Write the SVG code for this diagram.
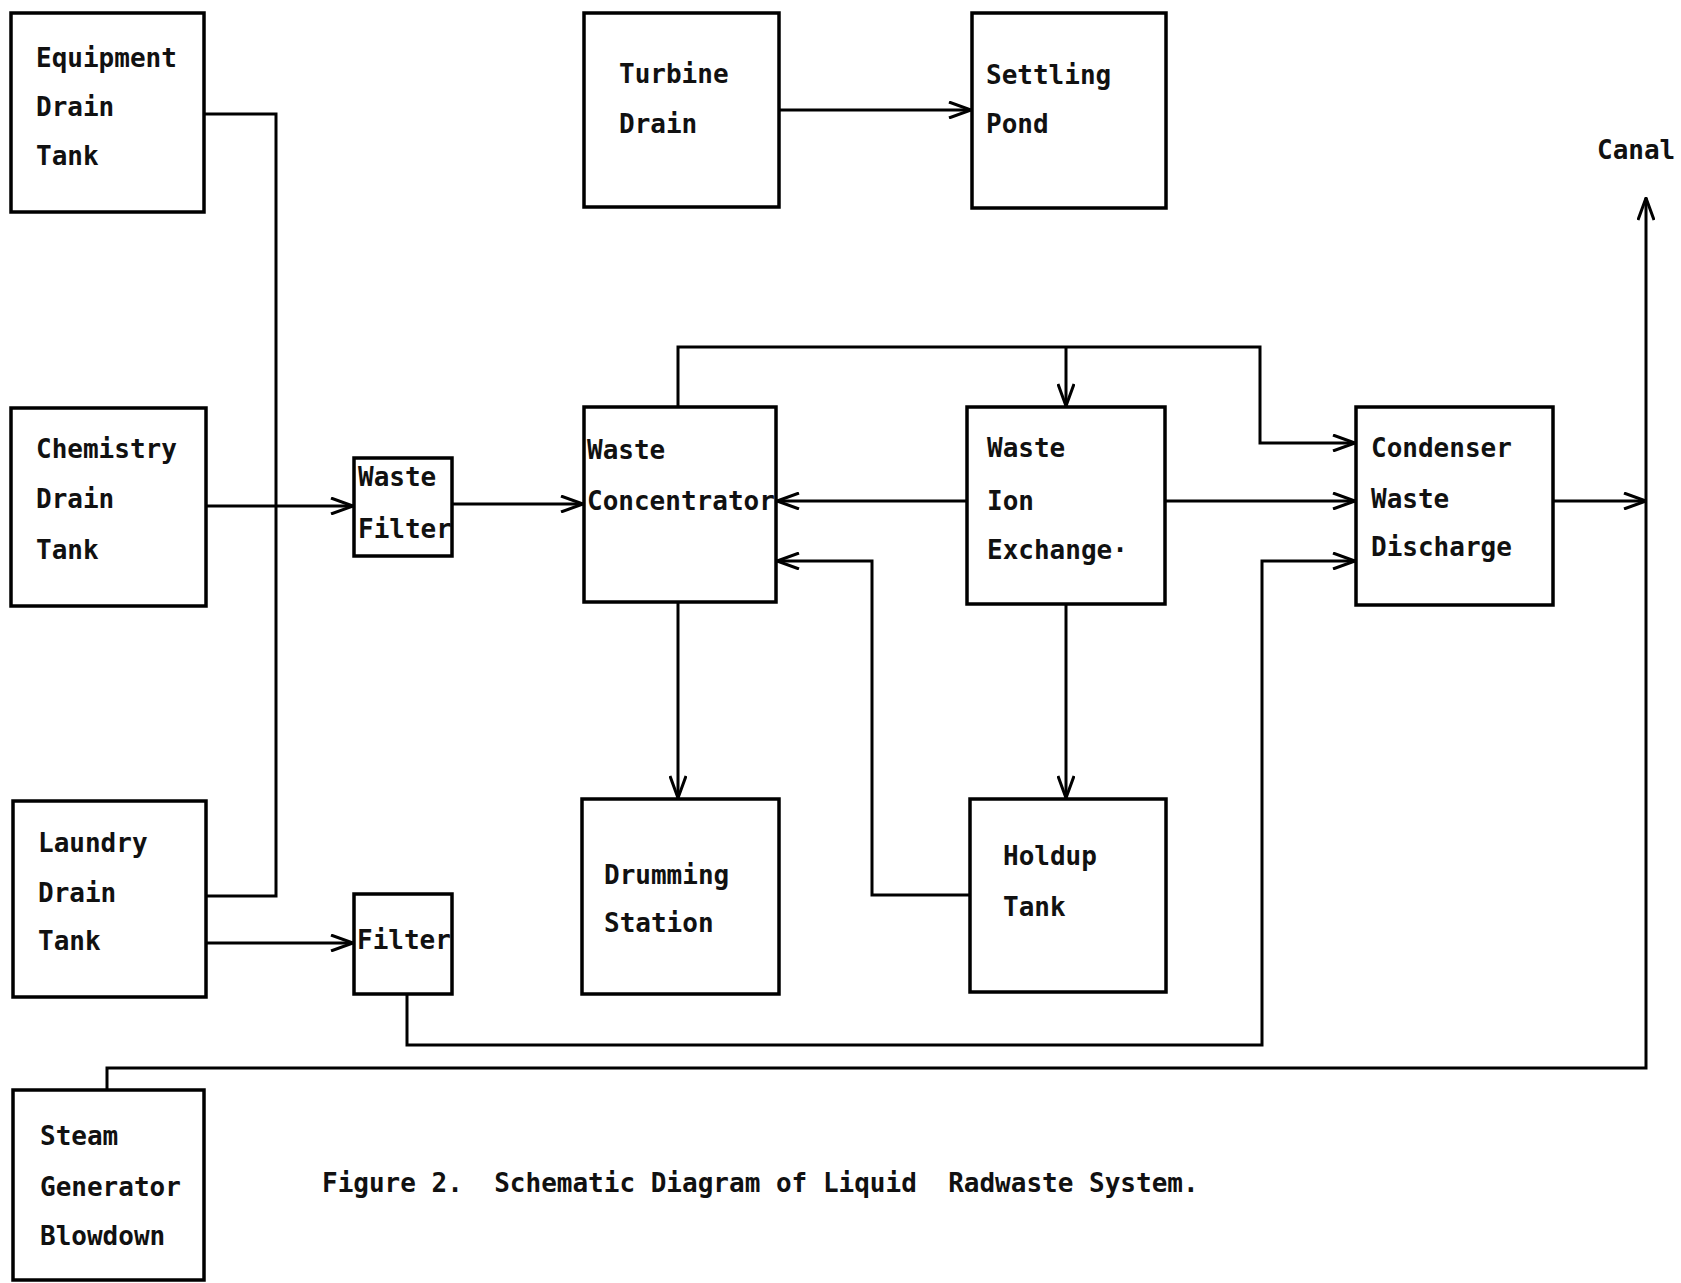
<svg xmlns="http://www.w3.org/2000/svg" width="1681" height="1283" viewBox="0 0 1681 1283">
<defs>
<style>
.box{fill:none;stroke:#000;stroke-width:3.5}
.ln{fill:none;stroke:#000;stroke-width:3}
.t{font-family:"DejaVu Sans Mono","Liberation Mono",monospace;font-size:26px;font-weight:bold;fill:#111;white-space:pre}
</style>
<marker id="ar" viewBox="0 0 24 18" refX="23" refY="9" markerWidth="24" markerHeight="18" markerUnits="userSpaceOnUse" orient="auto">
<path d="M1,1 L23,9 L1,17" fill="none" stroke="#000" stroke-width="3"/>
</marker>
</defs>
<rect width="1681" height="1283" fill="#fff"/>
<g id="connectors">
<path class="ln" d="M204,114 H276 V896 H206"/>
<path class="ln" d="M206,506 H353" marker-end="url(#ar)"/>
<path class="ln" d="M452,504 H583" marker-end="url(#ar)"/>
<path class="ln" d="M206,943 H353" marker-end="url(#ar)"/>
<path class="ln" d="M407,994 V1045 H1262 V561 H1355" marker-end="url(#ar)"/>
<path class="ln" d="M678,407 V347 H1260 V443 H1355" marker-end="url(#ar)"/>
<path class="ln" d="M1066,347 V406" marker-end="url(#ar)"/>
<path class="ln" d="M967,501 H777" marker-end="url(#ar)"/>
<path class="ln" d="M1165,501 H1355" marker-end="url(#ar)"/>
<path class="ln" d="M970,895 H872 V561 H777" marker-end="url(#ar)"/>
<path class="ln" d="M678,602 V798" marker-end="url(#ar)"/>
<path class="ln" d="M1066,604 V798" marker-end="url(#ar)"/>
<path class="ln" d="M1553,501 H1646" marker-end="url(#ar)"/>
<path class="ln" d="M107,1090 V1068 H1646 V198" marker-end="url(#ar)"/>
<path class="ln" d="M779,110 H971" marker-end="url(#ar)"/>
</g>
<g id="equipment-drain-tank">
<rect class="box" x="11" y="13" width="193" height="199"/>
<text class="t" x="36" y="67">Equipment</text>
<text class="t" x="36" y="116">Drain</text>
<text class="t" x="36" y="165">Tank</text>
</g>
<g id="chemistry-drain-tank">
<rect class="box" x="11" y="408" width="195" height="198"/>
<text class="t" x="36" y="458">Chemistry</text>
<text class="t" x="36" y="508">Drain</text>
<text class="t" x="36" y="559">Tank</text>
</g>
<g id="laundry-drain-tank">
<rect class="box" x="13" y="801" width="193" height="196"/>
<text class="t" x="38" y="852">Laundry</text>
<text class="t" x="38" y="902">Drain</text>
<text class="t" x="38" y="950">Tank</text>
</g>
<g id="steam-generator-blowdown">
<rect class="box" x="13" y="1090" width="191" height="190"/>
<text class="t" x="40" y="1145">Steam</text>
<text class="t" x="40" y="1196">Generator</text>
<text class="t" x="40" y="1245">Blowdown</text>
</g>
<g id="waste-filter">
<rect class="box" x="354" y="458" width="98" height="98"/>
<text class="t" x="358" y="486">Waste</text>
<text class="t" x="358" y="538">Filter</text>
</g>
<g id="filter">
<rect class="box" x="354" y="894" width="98" height="100"/>
<text class="t" x="357" y="949">Filter</text>
</g>
<g id="turbine-drain">
<rect class="box" x="584" y="13" width="195" height="194"/>
<text class="t" x="619" y="83">Turbine</text>
<text class="t" x="619" y="133">Drain</text>
</g>
<g id="settling-pond">
<rect class="box" x="972" y="13" width="194" height="195"/>
<text class="t" x="986" y="84">Settling</text>
<text class="t" x="986" y="133">Pond</text>
</g>
<g id="waste-concentrator">
<rect class="box" x="584" y="407" width="192" height="195"/>
<text class="t" x="587" y="459">Waste</text>
<text class="t" x="587" y="510">Concentrator</text>
</g>
<g id="waste-ion-exchange">
<rect class="box" x="967" y="407" width="198" height="197"/>
<text class="t" x="987" y="457">Waste</text>
<text class="t" x="987" y="510">Ion</text>
<text class="t" x="987" y="559">Exchange·</text>
</g>
<g id="condenser-waste-discharge">
<rect class="box" x="1356" y="407" width="197" height="198"/>
<text class="t" x="1371" y="457">Condenser</text>
<text class="t" x="1371" y="508">Waste</text>
<text class="t" x="1371" y="556">Discharge</text>
</g>
<g id="drumming-station">
<rect class="box" x="582" y="799" width="197" height="195"/>
<text class="t" x="604" y="884">Drumming</text>
<text class="t" x="604" y="932">Station</text>
</g>
<g id="holdup-tank">
<rect class="box" x="970" y="799" width="196" height="193"/>
<text class="t" x="1003" y="865">Holdup</text>
<text class="t" x="1003" y="916">Tank</text>
</g>
<g id="canal">
<text class="t" x="1597" y="159">Canal</text>
</g>
<g id="caption">
<text class="t" x="322" y="1192">Figure 2.  Schematic Diagram of Liquid  Radwaste System.</text>
</g>
</svg>
